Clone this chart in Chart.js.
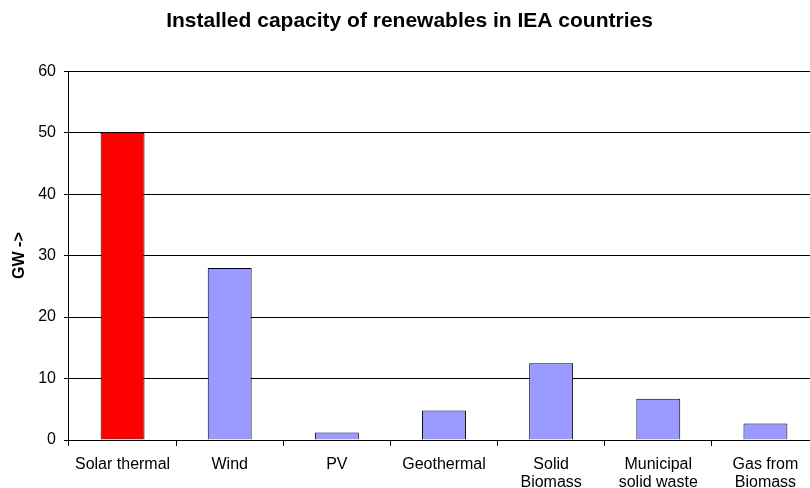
<!DOCTYPE html>
<html>
<head>
<meta charset="utf-8">
<script src="https://cdn.jsdelivr.net/npm/chart.js@4.4.0/dist/chart.umd.min.js"></script>
<style>
  html, body { margin: 0; padding: 0; background: #fff; overflow: hidden; }
  #wrap { width: 810px; height: 488px; overflow: hidden; }
</style>
</head>
<body>
<!-- a área do gráfico original ultrapassa a borda direita, então o canvas é um pouco mais largo -->
<div id="wrap"><canvas id="grafico" width="826" height="488"></canvas></div>
<script>
// Dados
const categorias = ['Solar thermal', 'Wind', 'PV', 'Geothermal', ['Solid', 'Biomass'], ['Municipal', 'solid waste'], ['Gas from', 'Biomass']];
const capacidadeGW = [50, 28, 1.2, 4.8, 12.5, 6.7, 2.7];
const coresBarras = ['#FF0000', '#9999FF', '#9999FF', '#9999FF', '#9999FF', '#9999FF', '#9999FF'];
const ticksY = [0, 10, 20, 30, 40, 50, 60];

const fonte = 'Arial, "Liberation Sans", sans-serif';

new Chart(document.getElementById('grafico'), {
    type: 'bar',
    data: {
        labels: categorias,
        datasets: [{
            data: capacidadeGW,
            backgroundColor: coresBarras,
            borderColor: '#000',
            borderWidth: 1,
            categoryPercentage: 1,
            barPercentage: 0.41
        }]
    },
    options: {
        responsive: false,
        animation: false,
        layout: { padding: { left: 0, right: 7, top: 0, bottom: -14 } },
        plugins: {
            legend: { display: false },
            tooltip: { enabled: false },
            title: {
                display: true,
                text: 'Installed capacity of renewables in IEA countries',
                color: '#000',
                font: { family: fonte, size: 21, weight: 'bold' },
                padding: { top: 9, bottom: 37 }
            }
        },
        scales: {
            x: {
                grid: { offset: true, drawOnChartArea: false, color: '#000', tickLength: 6, tickColor: '#000' },
                border: { color: '#000' },
                ticks: {
                    color: '#000',
                    font: { family: fonte, size: 16, lineHeight: 1.125 },
                    maxRotation: 0,
                    autoSkip: false,
                    padding: 10
                }
            },
            y: {
                min: 0,
                max: 60,
                afterBuildTicks(axis) { axis.ticks = ticksY.map(v => ({ value: v })); },
                grid: { color: '#000', tickLength: 5, tickColor: '#000' },
                border: { color: '#000' },
                ticks: { color: '#000', font: { family: fonte, size: 16 }, padding: 8 },
                title: {
                    display: true,
                    text: 'GW ->',
                    color: '#000',
                    font: { family: fonte, size: 16, weight: 'bold' },
                    padding: { top: 10, bottom: 1 }
                }
            }
        }
    }
});
</script>
</body>
</html>
